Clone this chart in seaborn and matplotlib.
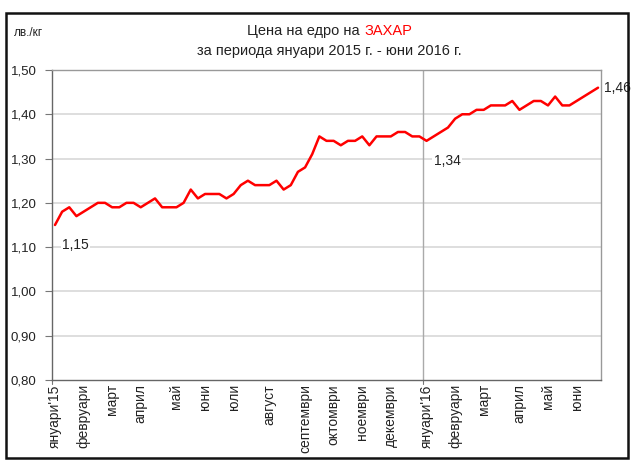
import matplotlib
matplotlib.use('Agg')
import pandas as pd
import seaborn as sns
import matplotlib.pyplot as plt
from matplotlib.patches import Rectangle

# Weekly wholesale sugar price, lv/kg, Jan 2015 - Jun 2016
prices = [1.15, 1.18, 1.19, 1.17, 1.18, 1.19, 1.20, 1.20, 1.19, 1.19,
          1.20, 1.20, 1.19, 1.20, 1.21, 1.19, 1.19, 1.19, 1.20, 1.23,
          1.21, 1.22, 1.22, 1.22, 1.21, 1.22, 1.24, 1.25, 1.24, 1.24,
          1.24, 1.25, 1.23, 1.24, 1.27, 1.28, 1.31, 1.35, 1.34, 1.34,
          1.33, 1.34, 1.34, 1.35, 1.33, 1.35, 1.35, 1.35, 1.36, 1.36,
          1.35, 1.35, 1.34, 1.35, 1.36, 1.37, 1.39, 1.40, 1.40, 1.41,
          1.41, 1.42, 1.42, 1.42, 1.43, 1.41, 1.42, 1.43, 1.43, 1.42,
          1.44, 1.42, 1.42, 1.43, 1.44, 1.45, 1.46]

month_labels = ["януари'15", 'февруари', 'март', 'април', 'май', 'юни', 'юли',
                'август', 'септември', 'октомври', 'ноември', 'декември',
                "януари'16", 'февруари', 'март', 'април', 'май', 'юни']
month_weeks = [0, 4, 8, 12, 17, 21, 25, 30, 35, 39, 43, 47, 52, 56, 60, 65, 69, 73]

y_ticks = [0.80, 0.90, 1.00, 1.10, 1.20, 1.30, 1.40, 1.50]

# weeks to annotate: first, start of 2016, last
marked_weeks = [0, 52, 76]

df = pd.DataFrame({'week': range(len(prices)), 'price': prices})

sns.set_style('white')
plt.rcParams['font.family'] = ['Liberation Sans', 'DejaVu Sans']

fig = plt.figure(figsize=(6.34, 4.65), dpi=100)
ax = fig.add_axes([0.082, 0.1828, 0.866, 0.6667])

sns.lineplot(data=df, x='week', y='price', ax=ax, color='#ff0000', linewidth=1.8)

ax.set_xlim(-0.42, 76.42)
ax.set_ylim(0.80, 1.50)
ax.set_yticks(y_ticks)
ax.set_yticklabels([f'{v:.2f}'.replace('.', ',') for v in y_ticks], fontsize=9.5, color='#222222')
ax.set_xticks(month_weeks)
ax.set_xticklabels(month_labels, rotation=90, fontsize=10, color='#222222')
ax.tick_params(axis='x', length=0, pad=3)
ax.tick_params(axis='y', length=5, width=0.8, color='#777777', pad=6, left=True)
ax.set_xlabel('')
ax.set_ylabel('')

for v in y_ticks[1:-1]:
    ax.axhline(v, color='#dedede', linewidth=1.4, zorder=0)
ax.axvline(51.5, color='#aaaaaa', linewidth=1.0, zorder=0)
ax.plot([51.5, 51.5], [0.80, 0.79], color='#777777', linewidth=0.8, clip_on=False)
ax.plot([-0.42, -0.42], [0.80, 0.79], color='#777777', linewidth=0.8, clip_on=False)

for s in ['top', 'right']:
    ax.spines[s].set_color('#999999')
for s in ['left', 'bottom']:
    ax.spines[s].set_color('#666666')
for s in ax.spines.values():
    s.set_linewidth(1.0)

# value labels
ax.text(marked_weeks[0] + 1.0, prices[0] - 0.045, f'{prices[0]:.2f}'.replace('.', ','),
        fontsize=10, color='#222222', va='center', ha='left',
        bbox=dict(facecolor='white', edgecolor='none', pad=1))
ax.text(marked_weeks[1] + 1.0, prices[52] - 0.045, f'{prices[52]:.2f}'.replace('.', ','),
        fontsize=10, color='#222222', va='center', ha='left',
        bbox=dict(facecolor='white', edgecolor='none', pad=1))
ax.text(marked_weeks[2] + 0.9, prices[76], f'{prices[76]:.2f}'.replace('.', ','),
        fontsize=10, color='#222222', va='center', ha='left', clip_on=False)

# titles
fig.text(0.022, 0.928, 'лв./кг', fontsize=8.5, color='#222222', va='center', ha='left')
t1 = fig.text(0.0, 0.934, 'Цена на едро на ', fontsize=10.5, color='#222222', va='center', ha='left')
t2 = fig.text(0.0, 0.934, 'ЗАХАР', fontsize=10.5, color='#ff0000', va='center', ha='left')
fig.canvas.draw()
r = fig.canvas.get_renderer()
w1 = t1.get_window_extent(r).width / fig.bbox.width
w2 = t2.get_window_extent(r).width / fig.bbox.width
x0 = 0.52 - (w1 + w2) / 2
t1.set_x(x0)
t2.set_x(x0 + w1)
fig.text(0.52, 0.890, 'за периода януари 2015 г. - юни 2016 г.', fontsize=10.5,
         color='#222222', va='center', ha='center')

# outer frame
fig.patches.append(Rectangle((0.009, 0.014), 0.982, 0.959, transform=fig.transFigure,
                             fill=False, edgecolor='#111111', linewidth=1.8))

fig.savefig('out.png', dpi=100)
